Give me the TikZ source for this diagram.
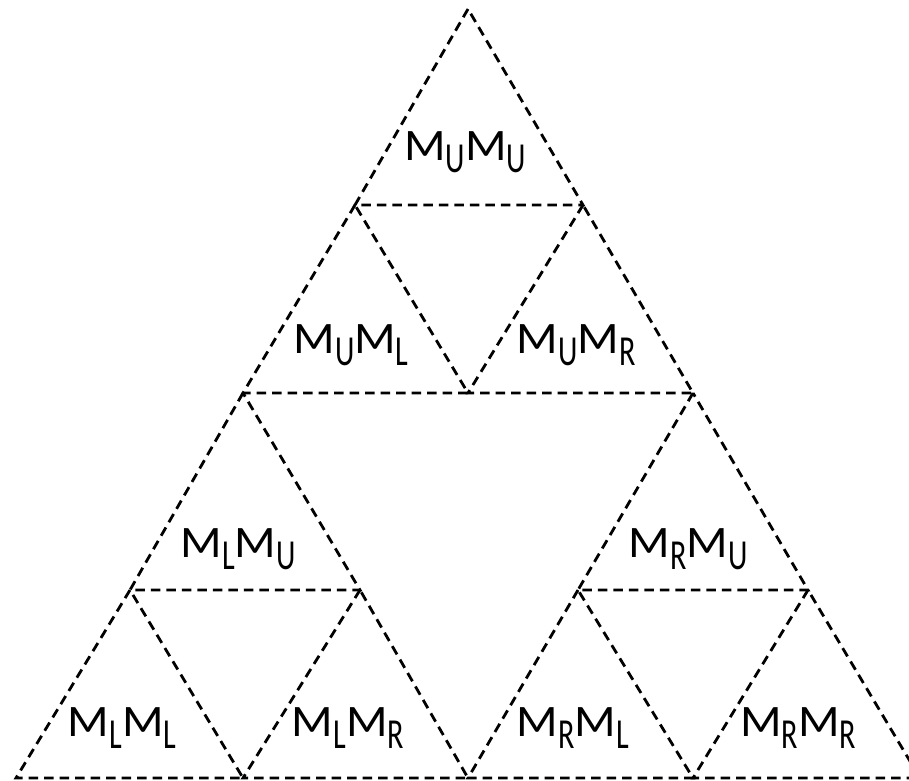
\documentclass[tikz,border=0pt]{standalone}
\usepackage{fontspec}
\setmainfont{Carlito}
\newcommand{\mysb}[1]{\raisebox{-0.28em}{\scalebox{0.62}[0.95]{#1}}}
\newcommand{\mylab}[2]{\scalebox{1.08}[1]{M\mysb{#1}M\mysb{#2}}}
\begin{document}
\begin{tikzpicture}[x=1pt,y=-1pt,
  tri/.style={draw=black,line width=2.8pt,dash pattern=on 9.5pt off 6pt,line join=miter},
  lab/.style={anchor=base,inner sep=0pt,font=\fontsize{45}{45}\selectfont}]
\useasboundingbox (0,0) rectangle (909,780);
% vertices
\coordinate (A) at (468,9);
\coordinate (B1) at (355,205);
\coordinate (B2) at (583,205);
\coordinate (C1) at (243,393);
\coordinate (C2) at (468,393);
\coordinate (C3) at (693,393);
\coordinate (D1) at (130,590);
\coordinate (D2) at (360,590);
\coordinate (D3) at (578,590);
\coordinate (D4) at (808,590);
\coordinate (E1) at (16,778);
\coordinate (E2) at (243,778);
\coordinate (E3) at (468,778);
\coordinate (E4) at (693,778);
\coordinate (E5) at (920,778);
% triangles
\draw[tri] (A) -- (B1) -- (B2) -- cycle;
\draw[tri] (B1) -- (C1) -- (C2) -- cycle;
\draw[tri] (B2) -- (C2) -- (C3) -- cycle;
\draw[tri] (C1) -- (D1) -- (D2) -- cycle;
\draw[tri] (D1) -- (E1) -- (E2) -- cycle;
\draw[tri] (D2) -- (E2) -- (E3) -- cycle;
\draw[tri] (C3) -- (D3) -- (D4) -- cycle;
\draw[tri] (D3) -- (E3) -- (E4) -- cycle;
\draw[tri] (D4) -- (E4) -- (E5) -- cycle;
% labels
\node[lab] (uu) at (465,160) {\mylab{U}{U}};
\node[lab] (ul) at (351,353) {\mylab{U}{L}};
\node[lab] (ur) at (576,353) {\mylab{U}{R}};
\node[lab] (lu) at (238,557) {\mylab{L}{U}};
\node[lab] (ru) at (688,557) {\mylab{R}{U}};
\node[lab] (ll) at (122,736) {\mylab{L}{L}};
\node[lab] (lr) at (348,736) {\mylab{L}{R}};
\node[lab] (rl) at (573,736) {\mylab{R}{L}};
\node[lab] (rr) at (798,736) {\mylab{R}{R}};
\end{tikzpicture}
\end{document}
